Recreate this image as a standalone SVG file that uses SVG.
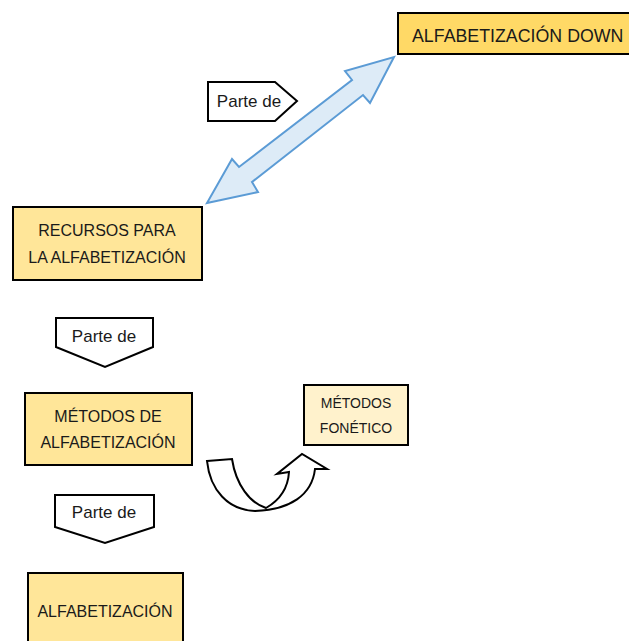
<svg xmlns="http://www.w3.org/2000/svg" width="629" height="641" viewBox="0 0 629 641">
<style>
.box{stroke:#000;stroke-width:2}
.y1{fill:#FFD966}
.y2{fill:#FFE699}
.y3{fill:#FFF2CC}
.lbl{fill:#fff;stroke:#000;stroke-width:2}
text{font-family:"Liberation Sans",Arial,sans-serif;fill:#1a1a1a;text-anchor:middle}
.t{font-size:16px}
.tp{font-size:17px}
.ts{font-size:14px}
</style>
<rect width="629" height="641" fill="#fff"/>
<g id="connectors">
<polygon points="394,57 370,103 363,95 252,182 258,192 207,203 232,159 239,167 352,80 345,71" fill="#DDEBF7" stroke="#5B9BD5" stroke-width="2" stroke-linejoin="miter"/>
<path d="M207,461 L232,459 C236,485 250,503 266,508 C280,500 288,488 289,472 L277,474 L302,454 L327,469 L315,469 C312,495 290,510 255,511 C228,510 210,490 207,461 Z" fill="#fff" stroke="#000" stroke-width="2" stroke-linejoin="miter"/>
</g>
<g id="node-down">
<rect class="box y1" x="398" y="13" width="240" height="41"/>
<text x="412" y="42" style="font-size:17.8px;text-anchor:start">ALFABETIZACIÓN DOWN</text>
</g>
<g id="label-1">
<polygon class="lbl" points="208,82 275,82 297,101 275,121 208,121"/>
<text class="tp" x="249" y="107">Parte de</text>
</g>
<g id="node-recursos">
<rect class="box y2" x="13" y="207" width="189" height="73"/>
<text class="t" x="107" y="236">RECURSOS PARA</text>
<text class="t" x="107" y="263">LA ALFABETIZACIÓN</text>
</g>
<g id="label-2">
<polygon class="lbl" points="56,318 153,318 153,347 105,367 56,347"/>
<text class="tp" x="104" y="342">Parte de</text>
</g>
<g id="node-metodos">
<rect class="box y2" x="25" y="393" width="167" height="72"/>
<text class="t" x="108" y="422">MÉTODOS DE</text>
<text class="t" x="108" y="448">ALFABETIZACIÓN</text>
</g>
<g id="node-fonetico">
<rect class="box y3" x="304" y="385" width="104" height="60"/>
<text class="ts" x="356" y="408">MÉTODOS</text>
<text class="ts" x="356" y="433">FONÉTICO</text>
</g>
<g id="label-3">
<polygon class="lbl" points="55,495 154,495 154,527 105,543 55,527"/>
<text class="tp" x="104" y="518">Parte de</text>
</g>
<g id="node-alfabetizacion">
<rect class="box y2" x="28" y="573" width="155" height="80"/>
<text class="t" x="105" y="617">ALFABETIZACIÓN</text>
</g>
</svg>
